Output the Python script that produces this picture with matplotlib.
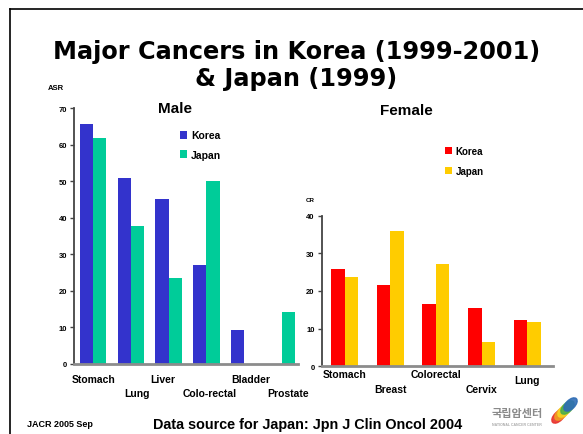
import numpy as np
import matplotlib.pyplot as plt
from matplotlib.patches import Ellipse
from matplotlib.lines import Line2D
from matplotlib.transforms import blended_transform_factory

plt.rcParams['font.family'] = ['Liberation Sans', 'DejaVu Sans']
plt.rcParams['font.weight'] = 'bold'

# Male, age-standardised rates
male_sites = ['Stomach', 'Lung', 'Liver', 'Colo-rectal', 'Bladder', 'Prostate']
male_korea = [65.6, 50.9, 45.1, 27.1, 9.3, 0]
male_japan = [61.8, 37.7, 23.5, 50.0, 0, 14.2]

# Female, crude rates
female_sites = ['Stomach', 'Breast', 'Colorectal', 'Cervix', 'Lung']
female_korea = [25.8, 21.6, 16.5, 15.5, 12.3]
female_japan = [23.7, 35.9, 27.2, 6.5, 11.8]

# category label placement (row = staggered line, dx = nudge along x)
male_label_row = [0, 1, 0, 1, 0, 1]
male_label_dx = [0.0, 0.17, -0.15, 0.08, 0.17, 0.17]
female_label_row = [0, 1, 0, 1, 0.4]

fig = plt.figure(figsize=(5.83, 4.35), dpi=100)

# frame of the slide
fig.add_artist(Line2D([10 / 583, 10 / 583], [0, 1 - 10 / 435], color='black', lw=1.2))
fig.add_artist(Line2D([10 / 583, 1], [1 - 10 / 435, 1 - 10 / 435], color='black', lw=1.2))

title_font = ['DejaVu Sans']
fig.text(0.508, 1 - 59 / 435, 'Major Cancers in Korea (1999-2001)', ha='center', va='baseline',
         fontsize=17.3, fontweight='bold', family=title_font)
fig.text(0.508, 1 - 86 / 435, '& Japan (1999)', ha='center', va='baseline',
         fontsize=17.3, fontweight='bold', family=title_font)


def style_axes(ax, ymax, step):
    ax.set_ylim(0, ymax)
    ax.set_yticks(np.arange(0, ymax + 1, step))
    for s in ['top', 'right']:
        ax.spines[s].set_visible(False)
    ax.spines['left'].set_color('#444444')
    ax.spines['left'].set_linewidth(1.3)
    ax.spines['bottom'].set_color('#8c8c8c')
    ax.spines['bottom'].set_linewidth(2)
    ax.set_xticks([])
    ax.tick_params(axis='y', length=3, width=1, color='#444444', labelsize=5.5, pad=2)
    for t in ax.get_yticklabels():
        t.set_fontweight('bold')
    ax.patch.set_alpha(0)


# male panel
ax1 = fig.add_axes([74 / 583, 1 - 365 / 435, 224 / 583, 256 / 435])
x = np.arange(len(male_sites))
w = 0.35
ax1.bar(x - w / 2, male_korea, w, color='#3333CC', label='Korea')
ax1.bar(x + w / 2, male_japan, w, color='#00CC99', label='Japan')
ax1.set_xlim(-0.51, 5.43)
style_axes(ax1, 70, 10)
tr = blended_transform_factory(ax1.transData, ax1.transAxes)
for i, (name, row, dx) in enumerate(zip(male_sites, male_label_row, male_label_dx)):
    ax1.text(i + dx, -0.058 - row * 0.056, name, transform=tr, ha='center', va='center',
             fontsize=7.5, fontweight='bold')
ax1.text(-0.08, 1.08, 'ASR', transform=ax1.transAxes, ha='center', va='center',
         fontsize=5.5, fontweight='bold')
ax1.text(0.45, 1.0, 'Male', transform=ax1.transAxes, ha='center', va='center',
         fontsize=11, fontweight='bold')
ax1.legend(loc='upper left', bbox_to_anchor=(0.43, 0.95), frameon=False,
           handlelength=0.7, handleheight=0.8, handletextpad=0.4, labelspacing=0.95,
           prop={'size': 7.5, 'weight': 'bold'})

# female panel
ax2 = fig.add_axes([321.7 / 583, 1 - 367.3 / 435, 231.3 / 583, 150.6 / 435])
x = np.arange(len(female_sites))
w = 0.295
ax2.bar(x - w / 2, female_korea, w, color='#FF0000', label='Korea')
ax2.bar(x + w / 2, female_japan, w, color='#FFCC00', label='Japan')
ax2.set_xlim(-0.5, 4.56)
style_axes(ax2, 40, 10)
tr = blended_transform_factory(ax2.transData, ax2.transAxes)
for i, (name, row) in enumerate(zip(female_sites, female_label_row)):
    ax2.text(i, -0.05 - row * 0.1, name, transform=tr, ha='center', va='center',
             fontsize=7.5, fontweight='bold')
ax2.text(-0.05, 1.11, 'CR', transform=ax2.transAxes, ha='center', va='center',
         fontsize=4.5, fontweight='bold')
ax2.text(0.365, 1.7, 'Female', transform=ax2.transAxes, ha='center', va='center',
         fontsize=11, fontweight='bold')
ax2.legend(loc='upper left', bbox_to_anchor=(0.495, 1.52), frameon=False,
           handlelength=0.7, handleheight=0.8, handletextpad=0.4, labelspacing=1.0,
           prop={'size': 7, 'weight': 'bold'})

# footer
fig.text(27 / 583, 1 - 425 / 435, 'JACR 2005 Sep', ha='left', va='center',
         fontsize=6.5, fontweight='bold')
fig.text(308 / 583, 1 - 425 / 435, 'Data source for Japan: Jpn J Clin Oncol 2004',
         ha='center', va='center', fontsize=10.4, fontweight='bold')

# logo
fig.text(517 / 583, 1 - 414 / 435, '국립암센터', ha='center', va='center', fontsize=8,
         color='#8a8a8a', family=['Noto Sans CJK KR', 'DejaVu Sans'], fontweight='bold')
fig.text(517 / 583, 1 - 425 / 435, 'NATIONAL CANCER CENTER', ha='center', va='center',
         fontsize=2.5, color='#aaaaaa')
lax = fig.add_axes([548 / 583, 1 - 428 / 435, 30 / 583, 30 / 435])
lax.set_xlim(0, 1)
lax.set_ylim(0, 1)
lax.axis('off')
swoosh = [((0.35, 0.35), '#e8322b'), ((0.45, 0.45), '#f29a1f'), ((0.55, 0.55), '#f5d421'),
          ((0.65, 0.65), '#4cae4c'), ((0.75, 0.75), '#2f6db5')]
for (cx, cy), c in swoosh:
    lax.add_patch(Ellipse((cx, cy), 0.55, 0.3, angle=45, color=c, alpha=0.9))

fig.savefig('out.png', dpi=100)
